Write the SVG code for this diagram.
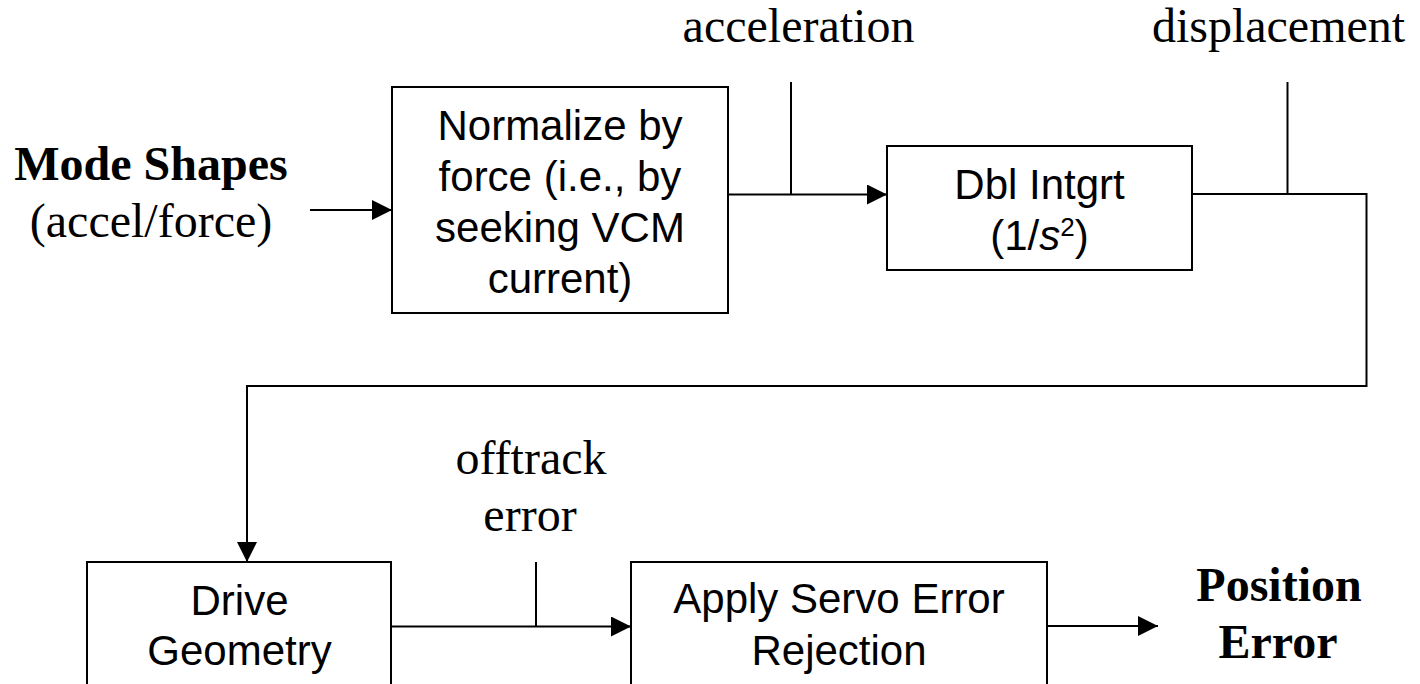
<svg xmlns="http://www.w3.org/2000/svg" width="1420" height="684" viewBox="0 0 1420 684">
<style>
.box{fill:#fff;stroke:#000;stroke-width:2}
.ln{fill:none;stroke:#000;stroke-width:2}
.arr{marker-end:url(#ah)}
.sans{font-family:"Liberation Sans",Arial,sans-serif;font-size:42px;fill:#000;text-anchor:middle}
.serif{font-family:"Liberation Serif","Times New Roman",serif;font-size:48px;fill:#000;text-anchor:middle}
.bold{font-weight:bold}
</style>
<defs>
<marker id="ah" markerUnits="userSpaceOnUse" viewBox="0 0 20 20" refX="20" refY="10" markerWidth="20" markerHeight="20" orient="auto">
<path d="M0,0 L20,10 L0,20 z" fill="#000"/>
</marker>
</defs>
<rect width="1420" height="684" fill="#fff"/>
<g id="connectors">
<line class="ln arr" x1="310" y1="210" x2="392" y2="210"/>
<line class="ln arr" x1="728" y1="194.5" x2="887" y2="194.5"/>
<line class="ln" x1="791" y1="82" x2="791" y2="194.5"/>
<polyline class="ln arr" points="1192,194 1366.5,194 1366.5,386 247,386 247,562"/>
<line class="ln" x1="1287.5" y1="82" x2="1287.5" y2="194"/>
<line class="ln arr" x1="391" y1="626.5" x2="631" y2="626.5"/>
<line class="ln" x1="536" y1="562" x2="536" y2="626.5"/>
<line class="ln arr" x1="1047" y1="626" x2="1158" y2="626"/>
</g>
<g id="input-label">
<text class="serif bold" x="151" y="180">Mode Shapes</text>
<text class="serif" x="151" y="237">(accel/force)</text>
</g>
<g id="normalize">
<rect class="box" x="392" y="87" width="336" height="226"/>
<text class="sans" x="560" y="140">Normalize by</text>
<text class="sans" x="560" y="191">force (i.e., by</text>
<text class="sans" x="560" y="242">seeking VCM</text>
<text class="sans" x="560" y="293">current)</text>
</g>
<g id="acceleration-label">
<text class="serif" x="798.5" y="42">acceleration</text>
</g>
<g id="dbl-intgrt">
<rect class="box" x="887" y="146" width="305" height="124"/>
<text class="sans" x="1039.5" y="199">Dbl Intgrt</text>
<text class="sans" x="1039.5" y="250">(1/<tspan font-style="italic">s</tspan><tspan font-size="26" dy="-14">2</tspan><tspan dy="14">)</tspan></text>
</g>
<g id="displacement-label">
<text class="serif" x="1278.5" y="42">displacement</text>
</g>
<g id="drive-geometry">
<rect class="box" x="87" y="562" width="304" height="150"/>
<text class="sans" x="239.5" y="615">Drive</text>
<text class="sans" x="239.5" y="665">Geometry</text>
</g>
<g id="offtrack-label">
<text class="serif" x="531" y="474">offtrack</text>
<text class="serif" x="530" y="531">error</text>
</g>
<g id="servo">
<rect class="box" x="631" y="562" width="416" height="150"/>
<text class="sans" x="839" y="613">Apply Servo Error</text>
<text class="sans" x="839" y="665">Rejection</text>
</g>
<g id="output-label">
<text class="serif bold" x="1279" y="601">Position</text>
<text class="serif bold" x="1278" y="658">Error</text>
</g>
</svg>
